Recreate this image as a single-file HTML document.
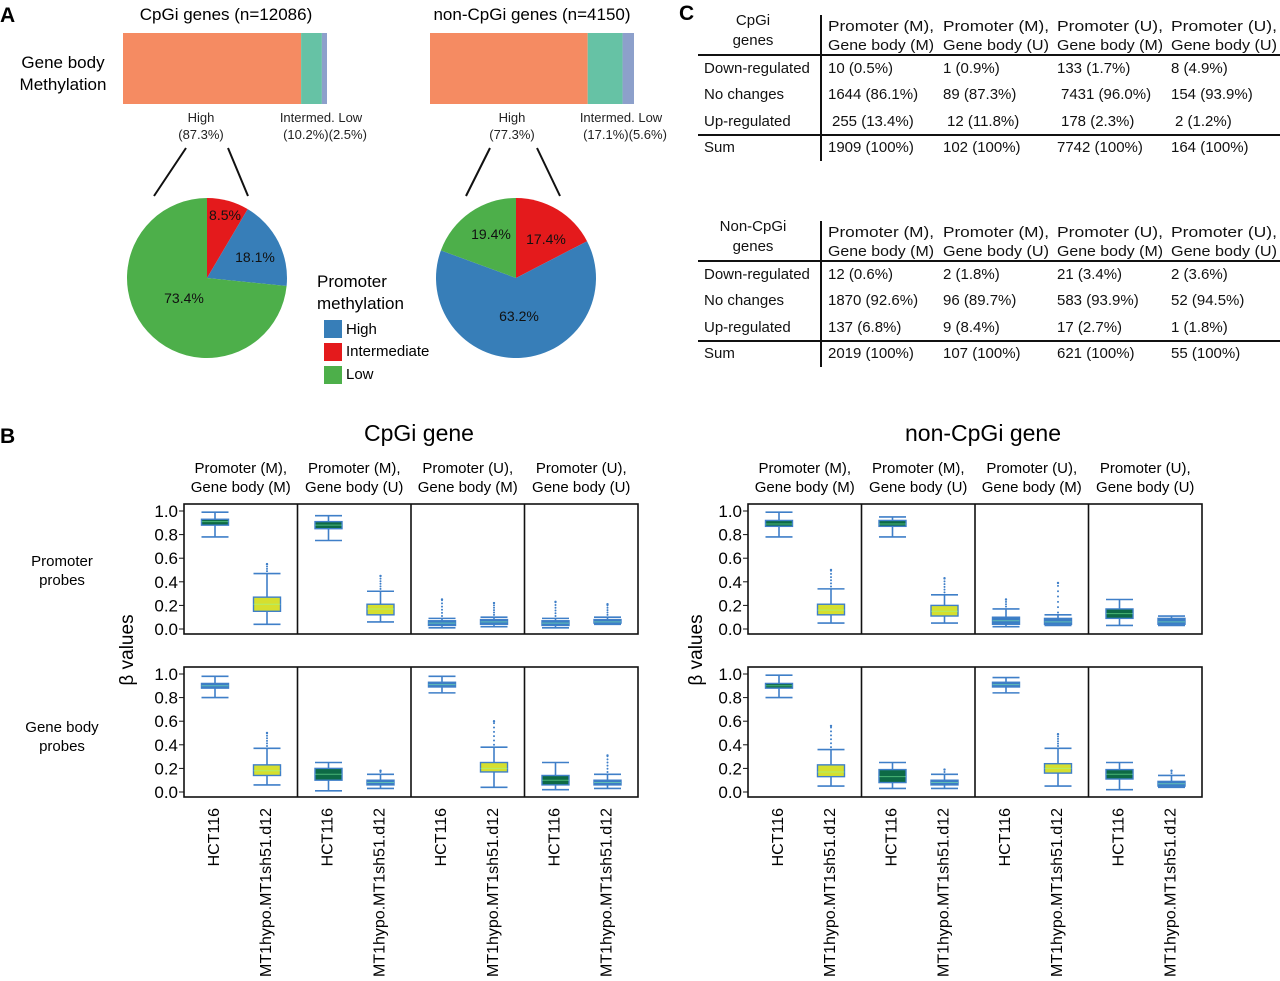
<!DOCTYPE html>
<html><head><meta charset="utf-8"><style>
body{margin:0;background:#fff;width:1280px;height:976px;overflow:hidden}
svg{font-family:"Liberation Sans",Arial,sans-serif}
</style></head><body>
<svg id="fig" width="1280" height="976" viewBox="0 0 1280 976" xmlns="http://www.w3.org/2000/svg">
<g>
<text x="0" y="22" font-size="21" font-weight="bold">A</text>
<text x="226" y="20" font-size="17" text-anchor="middle">CpGi genes (n=12086)</text>
<text x="532" y="20" font-size="17" text-anchor="middle">non-CpGi genes (n=4150)</text>
<text x="63" y="68" font-size="17" text-anchor="middle">Gene body</text>
<text x="63" y="90" font-size="17" text-anchor="middle">Methylation</text>
<g id="bars"></g>
<g font-size="13" fill="#222">
<text x="201" y="122" text-anchor="middle">High</text><text x="201" y="139" text-anchor="middle">(87.3%)</text>
<text x="321" y="122" text-anchor="middle">Intermed. Low</text><text x="325" y="139" text-anchor="middle">(10.2%)(2.5%)</text>
<text x="512" y="122" text-anchor="middle">High</text><text x="512" y="139" text-anchor="middle">(77.3%)</text>
<text x="621" y="122" text-anchor="middle">Intermed. Low</text><text x="625" y="139" text-anchor="middle">(17.1%)(5.6%)</text>
</g>
<g stroke="#111" stroke-width="2">
<line x1="186" y1="148" x2="154" y2="196"/><line x1="228" y1="148" x2="248" y2="196"/>
<line x1="490" y1="148" x2="466" y2="196"/><line x1="537" y1="148" x2="560" y2="196"/>
</g>
<g id="pies"></g>
<g>
<text x="317" y="287" font-size="17">Promoter</text><text x="317" y="309" font-size="17">methylation</text>
<rect x="324" y="320" width="18" height="18" fill="#377eb8"/>
<rect x="324" y="343" width="18" height="18" fill="#e41a1c"/>
<rect x="324" y="366" width="18" height="18" fill="#4daf4a"/>
<text x="346" y="334" font-size="15">High</text><text x="346" y="356" font-size="15">Intermediate</text><text x="346" y="379" font-size="15">Low</text>
</g>
</g>
<g id="tables">
<text x="679" y="20" font-size="21" font-weight="bold">C</text>
</g>
<g id="panelB">
<text x="0" y="443" font-size="21" font-weight="bold">B</text>
</g>
</svg>
<script>
const NS="http://www.w3.org/2000/svg";
function mk(tag,attrs,parent,text){const e=document.createElementNS(NS,tag);for(const k in attrs)e.setAttribute(k,attrs[k]);if(text!==undefined)e.textContent=text;parent.appendChild(e);return e;}

// ---- Panel A data ----
const barGroups=["CpGi","non-CpGi"];
const barCpgi=[87.3,10.2,2.5];
const barNonCpgi=[77.3,17.1,5.6];
const barColors=["#f58b62","#66c2a5","#8da0cb"];
const pieCategories=["Intermediate","High","Low"];
const pieCpgi=[8.5,18.1,73.4];
const pieNonCpgi=[17.4,63.2,19.4];
const pieColors=["#e41a1c","#377eb8","#4daf4a"];

const barsG=document.getElementById('bars');
[[barCpgi,123],[barNonCpgi,430]].forEach(([vals,x0],gi)=>{
  const W=204;let x=x0;const tot=vals.reduce((a,b)=>a+b,0);
  vals.forEach((v,i)=>{const w=v/tot*W;
    const r=mk('rect',{x:x,y:33,width:w,height:71,fill:barColors[i]},barsG);
    
    
    x+=w;});
});
const piesG=document.getElementById('pies');
const pieLabelPos=[[[225,220],[255,262],[184,303]],[[546,244],[519,321],[491,239]]];
[[pieCpgi,207,278],[pieNonCpgi,516,278]].forEach(([vals,cx,cy],pi)=>{
  const r=80;let a=0;const tot=vals.reduce((p,q)=>p+q,0);
  vals.forEach((v,i)=>{
    const a1=a+v/tot*2*Math.PI;
    const x0=cx+r*Math.sin(a),y0=cy-r*Math.cos(a),x1=cx+r*Math.sin(a1),y1=cy-r*Math.cos(a1);
    const large=(a1-a)>Math.PI?1:0;
    const p=mk('path',{d:`M${cx},${cy}L${x0},${y0}A${r},${r} 0 ${large} 1 ${x1},${y1}Z`,fill:pieColors[i]},piesG);
    
    
    const [lx,ly]=pieLabelPos[pi][i];
    const t=mk('text',{x:lx,y:ly,'font-size':14,'text-anchor':'middle',fill:'#111'},piesG,v.toFixed(1)+'%');
    
    
    a=a1;});
});

// ---- Panel C tables ----
const tblCols=["Promoter (M),|Gene body (M)","Promoter (M),|Gene body (U)","Promoter (U),|Gene body (M)","Promoter (U),|Gene body (U)"];
const tblRows=["Down-regulated","No changes","Up-regulated","Sum"];
const tbl1=[["10 (0.5%)","1 (0.9%)","133 (1.7%)","8 (4.9%)"],["1644 (86.1%)","89 (87.3%)"," 7431 (96.0%)","154 (93.9%)"],[" 255 (13.4%)"," 12 (11.8%)"," 178 (2.3%)"," 2 (1.2%)"],["1909 (100%)","102 (100%)","7742 (100%)","164 (100%)"]];
const tbl2=[["12 (0.6%)","2 (1.8%)","21 (3.4%)","2 (3.6%)"],["1870 (92.6%)","96 (89.7%)","583 (93.9%)","52 (94.5%)"],["137 (6.8%)","9 (8.4%)","17 (2.7%)","1 (1.8%)"],["2019 (100%)","107 (100%)","621 (100%)","55 (100%)"]];
const tG=document.getElementById('tables');
[[tbl1,"CpGi|genes",0],[tbl2,"Non-CpGi|genes",206]].forEach(([d,corner,dy],ti)=>{
  const g=mk('g',{'font-size':15,fill:'#111'},tG);
  
  
  const cl=corner.split('|');
  mk('text',{x:753,y:25+dy,'text-anchor':'middle'},g,cl[0]);
  mk('text',{x:753,y:45+dy,'text-anchor':'middle'},g,cl[1]);
  const cx=[828,943,1057,1171];
  tblCols.forEach((c,i)=>{const l=c.split('|');
    mk('text',{x:cx[i],y:31+dy,textLength:106,lengthAdjust:'spacingAndGlyphs'},g,l[0]);mk('text',{x:cx[i],y:50+dy,textLength:106,lengthAdjust:'spacingAndGlyphs'},g,l[1]);});
  const ry=[73,99,126,152];
  tblRows.forEach((r,i)=>{mk('text',{x:704,y:ry[i]+dy},g,r);
    d[i].forEach((v,j)=>mk('text',{x:cx[j]+(v[0]==' '?4:0),y:ry[i]+dy},g,v.trim()));});
  mk('line',{x1:698,y1:55+dy,x2:1280,y2:55+dy,stroke:'#111','stroke-width':2},g);
  mk('line',{x1:698,y1:135+dy,x2:1280,y2:135+dy,stroke:'#111','stroke-width':2},g);
  mk('line',{x1:821,y1:15+dy,x2:821,y2:161+dy,stroke:'#111','stroke-width':2},g);
});

// ---- Panel B box plots: [whiskerLow, q1, median, q3, whiskerHigh, maxOutlier] ----
const sampleNames=["HCT116","MT1hypo.MT1sh51.d12"];
const groupNames=["Promoter (M),|Gene body (M)","Promoter (M),|Gene body (U)","Promoter (U),|Gene body (M)","Promoter (U),|Gene body (U)"];
const cpgPromHCT=[[0.78,0.88,0.91,0.93,0.99,0.99],[0.75,0.85,0.88,0.91,0.96,0.96],[0.01,0.03,0.05,0.07,0.09,0.25],[0.01,0.03,0.05,0.07,0.09,0.23]];
const cpgPromMT1=[[0.04,0.15,0.21,0.27,0.47,0.55],[0.06,0.12,0.17,0.21,0.32,0.45],[0.02,0.04,0.06,0.08,0.10,0.22],[0.04,0.05,0.06,0.08,0.10,0.21]];
const cpgBodyHCT=[[0.80,0.88,0.90,0.92,0.98,0.98],[0.01,0.10,0.15,0.20,0.25,0.25],[0.84,0.89,0.91,0.93,0.98,0.99],[0.02,0.06,0.10,0.14,0.25,0.25]];
const cpgBodyMT1=[[0.06,0.14,0.18,0.23,0.37,0.50],[0.03,0.06,0.08,0.10,0.15,0.18],[0.04,0.17,0.20,0.25,0.38,0.60],[0.03,0.06,0.08,0.10,0.15,0.31]];
const ncPromHCT=[[0.78,0.87,0.89,0.92,0.99,0.99],[0.78,0.87,0.89,0.92,0.95,0.95],[0.02,0.04,0.07,0.10,0.17,0.25],[0.03,0.09,0.13,0.17,0.25,0.25]];
const ncPromMT1=[[0.05,0.12,0.16,0.21,0.34,0.50],[0.05,0.11,0.15,0.20,0.29,0.43],[0.03,0.04,0.06,0.09,0.12,0.39],[0.03,0.04,0.06,0.09,0.11,0.11]];
const ncBodyHCT=[[0.80,0.88,0.90,0.92,0.99,0.99],[0.03,0.08,0.13,0.19,0.25,0.25],[0.84,0.89,0.91,0.93,0.97,0.97],[0.02,0.11,0.15,0.19,0.25,0.25]];
const ncBodyMT1=[[0.05,0.13,0.17,0.23,0.36,0.56],[0.03,0.06,0.08,0.10,0.15,0.19],[0.05,0.16,0.20,0.24,0.37,0.49],[0.04,0.05,0.07,0.09,0.14,0.18]];
const boxFills={HCT:["#0d6a45","#0d6a45","#3b7dc4","#3b7dc4"],MT1:["#d6df2e","#d6df2e","#3b7dc4","#3b7dc4"]};
const hctFillBody=["#3b7dc4","#0d6a45","#3b7dc4","#0d6a45"];
const hctFillBodyNC=["#0d6a45","#0d6a45","#3b7dc4","#0d6a45"];
const mtFillBody=["#d6df2e","#3b7dc4","#d6df2e","#3b7dc4"];
const hctFillPromNC=["#0d6a45","#0d6a45","#3b7dc4","#0d6a45"];
const yTicks=[0,0.2,0.4,0.6,0.8,1.0];

const B=document.getElementById('panelB');
function drawSide(x0,title,rows){
  const colW=(454)/4;
  const tt=mk('text',{x:x0+227+8,y:441,'font-size':23,'text-anchor':'middle'},B,title);
  
  
  groupNames.forEach((g,i)=>{const l=g.split('|');const cx=x0+colW*i+colW/2;
    mk('text',{x:cx,y:473,'font-size':15,'text-anchor':'middle'},B,l[0]);
    mk('text',{x:cx,y:492,'font-size':15,'text-anchor':'middle'},B,l[1]);});
  rows.forEach((row,ri)=>{
    const top=ri?667:504, bot=ri?797:634, y0=ri?792:629, y1=ri?674:511;
    const y=v=>y0-(y0-y1)*v;
    const frame=mk('rect',{x:x0,y:top,width:454,height:bot-top,fill:'none',stroke:'#111','stroke-width':1.6},B);
    
    
    for(let i=1;i<4;i++)mk('line',{x1:x0+colW*i,y1:top,x2:x0+colW*i,y2:bot,stroke:'#111','stroke-width':1.6},B);
    yTicks.forEach(t=>{mk('line',{x1:x0-5,y1:y(t),x2:x0,y2:y(t),stroke:'#111'},B);
      mk('text',{x:x0-6,y:y(t)+6,'font-size':17,'text-anchor':'end'},B,t.toFixed(1));});
    row.series.forEach((ser,si)=>{
      ser.data.forEach((d,ci)=>{
        const cx=x0+colW*ci+(si?83:31), w=27;
        const g=mk('g',{},B);
        
        
        const st='#3f7fc8';
        mk('line',{x1:cx,y1:y(d[0]),x2:cx,y2:y(d[4]),stroke:st,'stroke-width':1.6},g);
        mk('line',{x1:cx-w/2,y1:y(d[0]),x2:cx+w/2,y2:y(d[0]),stroke:st,'stroke-width':1.6},g);
        mk('line',{x1:cx-w/2,y1:y(d[4]),x2:cx+w/2,y2:y(d[4]),stroke:st,'stroke-width':1.6},g);
        if(d[5]>d[4]+0.01){for(let v=d[4]+0.02;v<=d[5]+0.001;v+=Math.max(0.02,(d[5]-d[4])/6))mk('circle',{cx:cx,cy:y(v),r:1,fill:st},g);
          mk('circle',{cx:cx,cy:y(d[5]),r:1.2,fill:st},g);}
        mk('rect',{x:cx-w/2,y:y(d[3]),width:w,height:Math.max(3,y(d[1])-y(d[3])),fill:ser.fill[ci],stroke:st,'stroke-width':1.4},g);
        mk('line',{x1:cx-w/2,y1:y(d[2]),x2:cx+w/2,y2:y(d[2]),stroke:'#8fa',"stroke-opacity":0.5,'stroke-width':1},g);
      });
    });
  });
  for(let ci=0;ci<4;ci++)sampleNames.forEach((s,si)=>{
    const cx=x0+colW*ci+(si?83:31)+4;
    mk('text',{x:0,y:0,'font-size':16,'text-anchor':'end',transform:`translate(${cx},808) rotate(-90)`},B,s);});
}
drawSide(184,"CpGi gene",[{series:[{data:cpgPromHCT,fill:boxFills.HCT},{data:cpgPromMT1,fill:boxFills.MT1}]},{series:[{data:cpgBodyHCT,fill:hctFillBody},{data:cpgBodyMT1,fill:mtFillBody}]}]);
drawSide(748,"non-CpGi gene",[{series:[{data:ncPromHCT,fill:hctFillPromNC},{data:ncPromMT1,fill:boxFills.MT1}]},{series:[{data:ncBodyHCT,fill:hctFillBodyNC},{data:ncBodyMT1,fill:mtFillBody}]}]);
[[62,566,"Promoter"],[62,585,"probes"],[62,732,"Gene body"],[62,751,"probes"]].forEach(([x,y,t])=>mk('text',{x:x,y:y,'font-size':15,'text-anchor':'middle'},B,t));
[[133,650],[702,650]].forEach(([x,y])=>{const t=mk('text',{x:0,y:0,'font-size':19,'text-anchor':'middle',transform:`translate(${x},${y}) rotate(-90)`},B,'β values');
  
  });
</script>
</body></html>
